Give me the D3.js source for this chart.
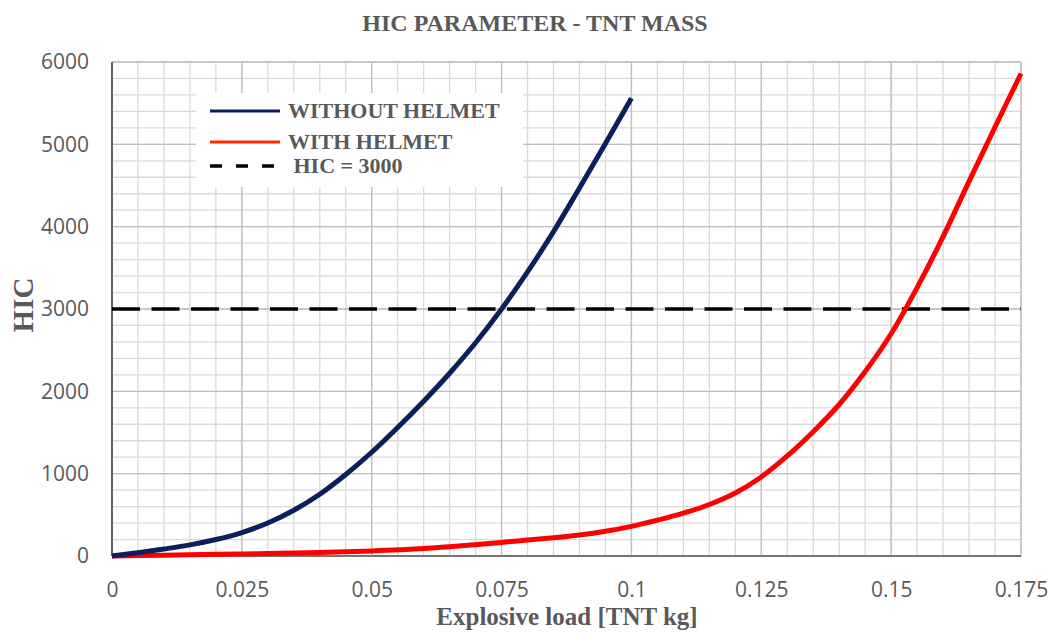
<!DOCTYPE html>
<html lang="en">
	<head>
		<meta charset="utf-8">
		<title>HIC parameter - TNT mass</title>
		<script type="text/javascript" src="https://cdn.jsdelivr.net/npm/d3@7"></script>
		<style type="text/css">
			body { margin: 0; background: #fff; }
			text { fill: #595959; }
			.serif { font-family: "Liberation Serif", "Times New Roman", serif; font-weight: bold; }
			.tick text { font-family: "Open Sans", sans-serif; font-size: 21px; fill: #595959; }
		</style>
	</head>
	<body>
		<script type="text/javascript">

		//Data
		var xWithout = [0, 0.005, 0.01, 0.015, 0.02, 0.025, 0.03, 0.035, 0.04, 0.045, 0.05,
			0.055, 0.06, 0.065, 0.07, 0.075, 0.08, 0.085, 0.09, 0.095, 0.1];
		var hicWithout = [0, 40, 85, 135, 200, 285, 400, 555, 750, 990, 1260,
			1560, 1880, 2220, 2590, 3000, 3450, 3940, 4470, 5010, 5560];

		var xWith = [0, 0.005, 0.01, 0.015, 0.02, 0.025, 0.03, 0.035, 0.04, 0.045, 0.05,
			0.055, 0.06, 0.065, 0.07, 0.075, 0.08, 0.085, 0.09, 0.095, 0.1,
			0.105, 0.11, 0.115, 0.12, 0.125, 0.13, 0.135, 0.14, 0.145, 0.15,
			0.155, 0.16, 0.165, 0.17, 0.175];
		var hicWith = [0, 5, 10, 15, 20, 25, 30, 36, 43, 51, 60,
			75, 92, 112, 138, 165, 195, 222, 255, 300, 360,
			435, 520, 625, 765, 960, 1215, 1510, 1840, 2240, 2700,
			3260, 3880, 4550, 5210, 5860];

		var hicLimit = 3000;

		var xTicks = [0, 0.025, 0.05, 0.075, 0.1, 0.125, 0.15, 0.175];
		var xTickLabels = ["0", "0.025", "0.05", "0.075", "0.1", "0.125", "0.15", "0.175"];
		var yTicks = [0, 1000, 2000, 3000, 4000, 5000, 6000];
		var xMinor = d3.range(0, 0.1751, 0.005);
		var yMinor = d3.range(0, 6001, 200);

		var legendNames = ["WITHOUT HELMET", "WITH HELMET", " HIC = 3000"];

		//Width and height
		var w = 1053;
		var h = 639;
		var plotLeft = 112, plotRight = 1021, plotTop = 62, plotBottom = 556;

		var x = d3.scaleLinear().domain([0, 0.175]).range([plotLeft, plotRight]);
		var y = d3.scaleLinear().domain([0, 6000]).range([plotBottom, plotTop]);

		var svg = d3.select("body")
					.append("svg")
					.attr("width", w)
					.attr("height", h);

		//Minor grid
		svg.append("g")
			.selectAll("line")
			.data(xMinor)
			.enter()
			.append("line")
			.attr("x1", function(d) { return x(d); })
			.attr("x2", function(d) { return x(d); })
			.attr("y1", plotTop)
			.attr("y2", plotBottom)
			.attr("stroke", "#d9d9d9")
			.attr("stroke-width", 1.3);

		svg.append("g")
			.selectAll("line")
			.data(yMinor)
			.enter()
			.append("line")
			.attr("x1", plotLeft)
			.attr("x2", plotRight)
			.attr("y1", function(d) { return y(d); })
			.attr("y2", function(d) { return y(d); })
			.attr("stroke", "#d9d9d9")
			.attr("stroke-width", 1.3);

		//Major grid
		svg.append("g")
			.selectAll("line")
			.data(xTicks)
			.enter()
			.append("line")
			.attr("x1", function(d) { return x(d); })
			.attr("x2", function(d) { return x(d); })
			.attr("y1", plotTop)
			.attr("y2", plotBottom)
			.attr("stroke", "#bfbfbf")
			.attr("stroke-width", 1.3);

		svg.append("g")
			.selectAll("line")
			.data(yTicks)
			.enter()
			.append("line")
			.attr("x1", plotLeft)
			.attr("x2", plotRight)
			.attr("y1", function(d) { return y(d); })
			.attr("y2", function(d) { return y(d); })
			.attr("stroke", "#bfbfbf")
			.attr("stroke-width", 1.3);

		//Axes
		var xAxis = d3.axisBottom(x)
			.tickValues(xTicks)
			.tickSize(0)
			.tickPadding(26)
			.tickFormat(function(d, i) { return xTickLabels[i]; });
		svg.append("g")
			.attr("transform", "translate(0," + plotBottom + ")")
			.call(xAxis)
			.call(function(g) { g.select(".domain").remove(); });

		var yAxis = d3.axisLeft(y)
			.tickValues(yTicks)
			.tickSize(0)
			.tickPadding(23)
			.tickFormat(d3.format("d"));
		svg.append("g")
			.attr("transform", "translate(" + plotLeft + ",0)")
			.call(yAxis)
			.call(function(g) { g.select(".domain").remove(); });

		svg.append("line")
			.attr("x1", plotLeft).attr("x2", plotLeft)
			.attr("y1", plotTop).attr("y2", plotBottom)
			.attr("stroke", "#404040").attr("stroke-width", 1.5);
		svg.append("line")
			.attr("x1", plotLeft).attr("x2", plotRight)
			.attr("y1", plotBottom).attr("y2", plotBottom)
			.attr("stroke", "#595959").attr("stroke-width", 1.5);

		//Legend box
		svg.append("rect")
			.attr("x", 196).attr("y", 93)
			.attr("width", 327).attr("height", 94)
			.attr("fill", "#fff");

		//HIC = 3000 line
		svg.append("line")
			.attr("x1", x(0)).attr("x2", x(0.175))
			.attr("y1", y(hicLimit)).attr("y2", y(hicLimit))
			.attr("stroke", "#000")
			.attr("stroke-width", 3.5)
			.attr("stroke-dasharray", "28,11.5");

		//Curves
		var line = d3.line()
			.x(function(d) { return x(d[0]); })
			.y(function(d) { return y(d[1]); })
			.curve(d3.curveCatmullRom.alpha(0.5));

		svg.append("path")
			.datum(d3.zip(xWith, hicWith))
			.attr("fill", "none")
			.attr("stroke", "#ff0000")
			.attr("stroke-width", 5)
			.attr("d", line);

		svg.append("path")
			.datum(d3.zip(xWithout, hicWithout))
			.attr("fill", "none")
			.attr("stroke", "#0a1f5c")
			.attr("stroke-width", 5)
			.attr("d", line);

		//Legend entries
		var legendColors = ["#0a1f5c", "#ff2a00", "#000"];
		var legendY = [111, 142, 166];
		var legend = svg.selectAll("g.legend")
			.data(legendNames)
			.enter()
			.append("g")
			.attr("class", "legend");

		legend.append("line")
			.attr("x1", 210).attr("x2", 280)
			.attr("y1", function(d, i) { return legendY[i]; })
			.attr("y2", function(d, i) { return legendY[i]; })
			.attr("stroke", function(d, i) { return legendColors[i]; })
			.attr("stroke-width", function(d, i) { return i == 2 ? 3.5 : 3; })
			.attr("stroke-dasharray", function(d, i) { return i == 2 ? "12,14" : null; });

		legend.append("text")
			.attr("class", "serif")
			.attr("x", 288)
			.attr("y", function(d, i) { return legendY[i] + 7; })
			.attr("font-size", 22)
			.style("white-space", "pre")
			.text(function(d) { return d; });

		//Titles
		svg.append("text")
			.attr("class", "serif")
			.attr("x", 535).attr("y", 31)
			.attr("text-anchor", "middle")
			.attr("font-size", 24)
			.text("HIC PARAMETER - TNT MASS");

		svg.append("text")
			.attr("class", "serif")
			.attr("x", 567).attr("y", 625)
			.attr("text-anchor", "middle")
			.attr("font-size", 25)
			.text("Explosive load [TNT kg]");

		svg.append("text")
			.attr("class", "serif")
			.attr("transform", "translate(33,305) rotate(-90)")
			.attr("text-anchor", "middle")
			.attr("font-size", 29)
			.text("HIC");

		</script>
	</body>
</html>
